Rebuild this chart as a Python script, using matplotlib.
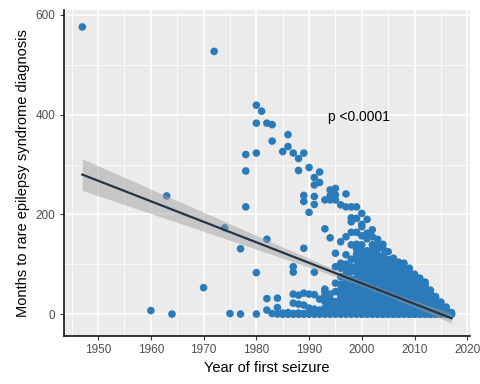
import numpy as np
import matplotlib
matplotlib.use("Agg")
import matplotlib.pyplot as plt
from matplotlib.ticker import MultipleLocator

plt.rcParams['font.family'] = ['Liberation Sans', 'DejaVu Sans']

# sparse early cases (year of first seizure, months to diagnosis)
early_year = [1947, 1960, 1963, 1964, 1970, 1972, 1974, 1975, 1977, 1977,
              1978, 1978, 1978, 1980, 1980, 1980, 1980, 1980, 1981,
              1982, 1982, 1982, 1982, 1983, 1983, 1983, 1984, 1984, 1984]
early_months = [576, 7, 237, 0, 53, 527, 173, 1, 131, 0,
                320, 287, 215, 419, 383, 323, 83, 0, 407,
                383, 150, 31, 8, 380, 347, 1, 32, 13, 0]

# denser period, one list of months per year 1985..2017
dense_years = list(range(1985, 2018))
dense_months = [
    [326, 0, 2, 0],
    [360, 336, 0, 3, 0],
    [323, 95, 84, 40, 22, 0, 1, 0],
    [312, 288, 38, 20, 0, 2, 0],
    [323, 238, 226, 132, 42, 18, 0, 1, 0],
    [294, 204, 40, 12, 0, 2, 0],
    [274, 259, 236, 220, 84, 39, 10, 0, 1, 0],
    [285, 264, 30, 8, 0, 1, 0],
    [229, 171, 50, 45, 37, 25, 12, 4, 0, 2, 0],
    [249, 238, 229, 153, 40, 30, 18, 10, 0, 1, 3, 0],
    [252, 239, 229, 122, 95, 62, 45, 25, 15, 8, 0, 2, 4, 0],
    [219, 145, 102, 92, 75, 60, 49, 38, 30, 20, 12, 6, 0, 1, 3, 0],
    [241, 215, 155, 119, 100, 90, 80, 65, 55, 42, 32, 20, 12, 5, 0, 1, 3, 0],
    [215, 193, 185, 164, 139, 110, 95, 85, 70, 60, 52, 40, 30, 22, 10, 5, 0, 2, 4, 0],
    [215, 192, 164, 140, 130, 120, 108, 95, 85, 72, 60, 50, 40, 30, 22, 15, 8, 0, 1, 3, 0],
    [202, 180, 175, 157, 139, 126, 117, 103, 96, 85, 79, 68, 63, 52, 48, 37, 33, 24, 19, 11, 7, 3, 1, 0, 0, 2, 5, 0, 2],
    [190, 162, 151, 127, 115, 106, 99, 88, 81, 70, 64, 54, 49, 41, 36, 27, 21, 13, 9, 4, 2, 1, 0, 0, 3, 6, 0, 2],
    [169, 155, 139, 129, 119, 108, 104, 93, 86, 76, 71, 60, 55, 45, 40, 32, 27, 19, 15, 8, 5, 2, 1, 0, 0, 3, 7, 0, 2],
    [150, 139, 131, 118, 108, 97, 91, 80, 75, 64, 59, 49, 45, 36, 31, 24, 19, 11, 8, 4, 2, 1, 0, 0, 5, 3, 0, 2],
    [140, 132, 117, 114, 104, 93, 87, 76, 71, 60, 56, 46, 43, 34, 30, 23, 19, 12, 9, 5, 3, 1, 0, 0, 0, 6, 2, 0, 2],
    [125, 109, 101, 90, 85, 74, 69, 58, 54, 44, 41, 33, 29, 21, 18, 11, 8, 5, 3, 1, 0, 0, 0, 2, 4, 0, 2],
    [112, 99, 93, 83, 79, 68, 63, 54, 51, 42, 39, 30, 28, 20, 17, 11, 8, 5, 2, 1, 0, 0, 0, 3, 6, 0, 2],
    [104, 95, 89, 78, 73, 63, 59, 50, 47, 38, 36, 28, 26, 19, 15, 10, 7, 4, 2, 1, 0, 0, 0, 3, 5, 0, 2],
    [102, 92, 85, 74, 70, 60, 56, 47, 44, 35, 33, 25, 23, 16, 13, 8, 6, 3, 1, 0, 0, 0, 2, 4, 0, 2],
    [92, 84, 77, 66, 62, 52, 49, 40, 37, 29, 27, 20, 17, 12, 9, 5, 3, 1, 0, 0, 0, 2, 4, 0, 2],
    [80, 75, 69, 60, 57, 48, 45, 36, 34, 26, 24, 18, 15, 10, 8, 4, 3, 1, 0, 0, 0, 2, 0, 2, 4, 1, 3, 6, 0, 5],
    [72, 65, 61, 52, 49, 40, 38, 30, 28, 21, 19, 13, 11, 6, 4, 2, 1, 0, 0, 0, 3, 0, 2, 4, 1, 3, 6, 0, 5],
    [64, 58, 53, 44, 41, 34, 31, 24, 22, 16, 14, 9, 7, 4, 2, 1, 0, 0, 0, 3, 0, 2, 4, 1, 3, 6, 0, 5],
    [48, 42, 37, 30, 27, 21, 19, 13, 11, 7, 5, 3, 1, 0, 0, 0, 2, 0, 2, 4, 1, 3, 6, 0, 5],
    [35, 30, 26, 19, 17, 11, 9, 5, 4, 2, 1, 0, 0, 0, 3, 0, 2, 4, 1, 3, 6, 0, 5],
    [24, 18, 15, 9, 7, 4, 2, 1, 0, 0, 3, 0, 2, 4, 1, 3, 6, 0, 5],
    [14, 10, 7, 3, 1, 0, 0, 2, 0, 2, 4, 1, 3, 6, 0, 5],
    [3, 1, 0, 0],
]

x = list(early_year)
y = list(early_months)
for yr, vals in zip(dense_years, dense_months):
    x += [yr] * len(vals)
    y += vals
x = np.array(x, dtype=float)
y = np.array(y, dtype=float)

# linear fit + 95% CI (like geom_smooth(method="lm"))
b, a = np.polyfit(x, y, 1)
n = len(x)
resid = y - (a + b * x)
s = np.sqrt(np.sum(resid ** 2) / (n - 2))
xs = np.linspace(x.min(), x.max(), 80)
ys = a + b * xs
se = s * np.sqrt(1.0 / n + (xs - x.mean()) ** 2 / np.sum((x - x.mean()) ** 2))
ci = 1.963 * se

fig = plt.figure(figsize=(4.8, 3.84), dpi=100)
ax = fig.add_axes([0.133, 0.125, 0.846, 0.849])
ax.set_facecolor('#EBEBEB')

ax.scatter(x, y, s=30, color='#2B7BBA', edgecolors='none', zorder=3)
ax.fill_between(xs, ys - ci, ys + ci, color='#999999', alpha=0.45, lw=0, zorder=4)
ax.plot(xs, ys, color='#253545', lw=1.6, zorder=5)

ax.text(1993.5, 396, 'p <0.0001', fontsize=10, va='center', ha='left', zorder=6)

ax.set_xlim(1943.5, 2020.5)
ax.set_ylim(-44, 610)
ax.xaxis.set_major_locator(MultipleLocator(10))
ax.xaxis.set_minor_locator(MultipleLocator(5))
ax.yaxis.set_major_locator(MultipleLocator(200))
ax.yaxis.set_minor_locator(MultipleLocator(100))
ax.grid(which='major', color='white', lw=1.1, zorder=0)
ax.grid(which='minor', color='white', lw=0.55, zorder=0)
ax.set_axisbelow(True)

for sp in ['top', 'right']:
    ax.spines[sp].set_visible(False)
for sp in ['left', 'bottom']:
    ax.spines[sp].set_color('black')
    ax.spines[sp].set_linewidth(1.1)
ax.tick_params(which='major', length=3, width=0.8, color='#333333',
               labelsize=8.5, labelcolor='#4D4D4D', pad=3)
ax.tick_params(which='minor', length=0)

ax.set_xlabel('Year of first seizure', fontsize=10.5, labelpad=3)
ax.set_ylabel('Months to rare epilepsy syndrome diagnosis', fontsize=10.5, labelpad=4)

fig.savefig('out.png', dpi=100)
